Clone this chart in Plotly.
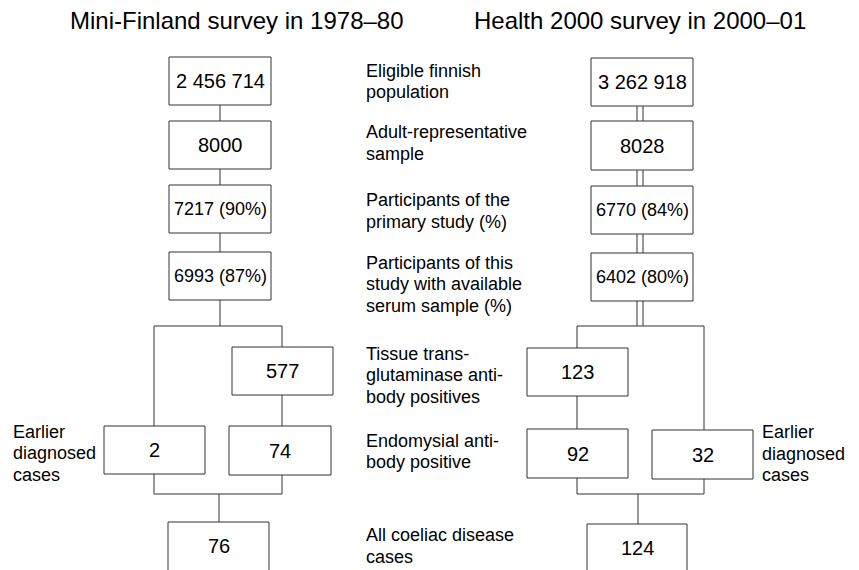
import plotly.graph_objects as go

# ---- data ----
titles = ["Mini-Finland survey in 1978\u201380", "Health 2000 survey in 2000\u201301"]
stage_labels = [
    ["Eligible finnish", "population"],
    ["Adult-representative", "sample"],
    ["Participants of the", "primary study (%)"],
    ["Participants of this", "study with available", "serum sample (%)"],
    ["Tissue trans-", "glutaminase anti-", "body positives"],
    ["Endomysial anti-", "body positive"],
    ["All coeliac disease", "cases"],
]
side_label = ["Earlier", "diagnosed", "cases"]
mini_values = ["2 456 714", "8000", "7217 (90%)", "6993 (87%)", "577", "2", "74", "76"]
health_values = ["3 262 918", "8028", "6770 (84%)", "6402 (80%)", "123", "92", "32", "124"]

# ---- layout geometry (window pixels; page body has an 8px margin) ----
OFF = 8
LC = "#333333"
LH = 21.5
shapes = []
annotations = []

def box(x0, x1, y0, y1, text, size, ty=None):
    shapes.append(dict(type="rect", x0=x0, x1=x1, y0=y0, y1=y1,
                       line=dict(color=LC, width=1), fillcolor="white", layer="above"))
    annotations.append(dict(x=(x0 + x1) / 2, y=(y0 + y1) / 2 if ty is None else ty, text=text,
                            showarrow=False, font=dict(size=size, color="black"),
                            xanchor="center", yanchor="middle"))

def line(x0, y0, x1, y1):
    shapes.append(dict(type="line", x0=x0, x1=x1, y0=y0, y1=y1,
                       line=dict(color=LC, width=1), layer="below"))

def dline(x, y0, y1):
    line(x - 3, y0, x - 3, y1)
    line(x + 3, y0, x + 3, y1)

def label(x, y, text, size=18, anchor="left"):
    annotations.append(dict(x=x, y=y, text=text, showarrow=False, align="left",
                            font=dict(size=size, color="black"), xanchor=anchor, yanchor="middle"))

def block(x, yc, lines, size=18):
    n = len(lines)
    for i, t in enumerate(lines):
        label(x, yc + (i - (n - 1) / 2) * LH, t, size)

def size_for(v):
    return 18 if "%" in v else 20

# Left column (Mini-Finland)
lx0, lx1 = 169, 271
lcx = 220
rows = [(57, 105), (121, 169), (185, 233), (252, 300)]
for i, (a, b) in enumerate(rows):
    box(lx0, lx1, a, b, mini_values[i], size_for(mini_values[i]))
for i in range(3):
    line(lcx, rows[i][1], lcx, rows[i + 1][0])
line(lcx, 300, lcx, 326)
line(154, 326, 282, 326)
line(154, 326, 154, 426)
line(282, 326, 282, 347)
box(232, 333, 347, 395, mini_values[4], 20)
line(282, 395, 282, 426)
box(104, 205, 426, 474, mini_values[5], 20)
box(229, 331, 426, 475, mini_values[6], 20)
line(154, 474, 154, 494)
line(282, 475, 282, 494)
line(154, 494, 282, 494)
line(219, 494, 219, 522)
box(168, 269, 522, 590, mini_values[7], 20, ty=546)

# Right column (Health 2000)
rx0, rx1 = 591, 693
rcx = 640
rrows = [(58, 106), (121, 170), (186, 234), (253, 301)]
for i, (a, b) in enumerate(rrows):
    box(rx0, rx1, a, b, health_values[i], size_for(health_values[i]))
for i in range(3):
    dline(rcx, rrows[i][1], rrows[i + 1][0])
dline(rcx, 301, 326)
line(577, 326, 704, 326)
line(577, 326, 577, 348)
line(704, 326, 704, 430)
box(527, 628, 348, 396, health_values[4], 20)
line(577, 396, 577, 429)
box(527, 628, 429, 478, health_values[5], 20)
box(652, 753, 430, 479, health_values[6], 20)
line(577, 478, 577, 494)
line(704, 479, 704, 494)
line(577, 494, 704, 494)
line(638, 494, 638, 524)
box(587, 687, 524, 590, health_values[7], 20, ty=548)

# Titles
label(237, 20, titles[0], size=24, anchor="center")
label(640, 20, titles[1], size=24, anchor="center")

# Stage labels
label_y = [81.5, 143, 211, 284, 375, 451.5, 546]
for t, y in zip(stage_labels, label_y):
    block(364, y, t)

block(11, 453, side_label)
block(760, 453.5, side_label)

fig = go.Figure()
fig.update_layout(
    width=859 - OFF, height=570 - OFF,
    margin=dict(l=0, r=0, t=0, b=0),
    paper_bgcolor="white", plot_bgcolor="white",
    xaxis=dict(range=[OFF, 859], visible=False, fixedrange=True),
    yaxis=dict(range=[570, OFF], visible=False, fixedrange=True),
    font=dict(family="Liberation Sans, Arial, Helvetica, sans-serif", color="black"),
    shapes=shapes, annotations=annotations, showlegend=False,
)
fig.write_html("out.html")
